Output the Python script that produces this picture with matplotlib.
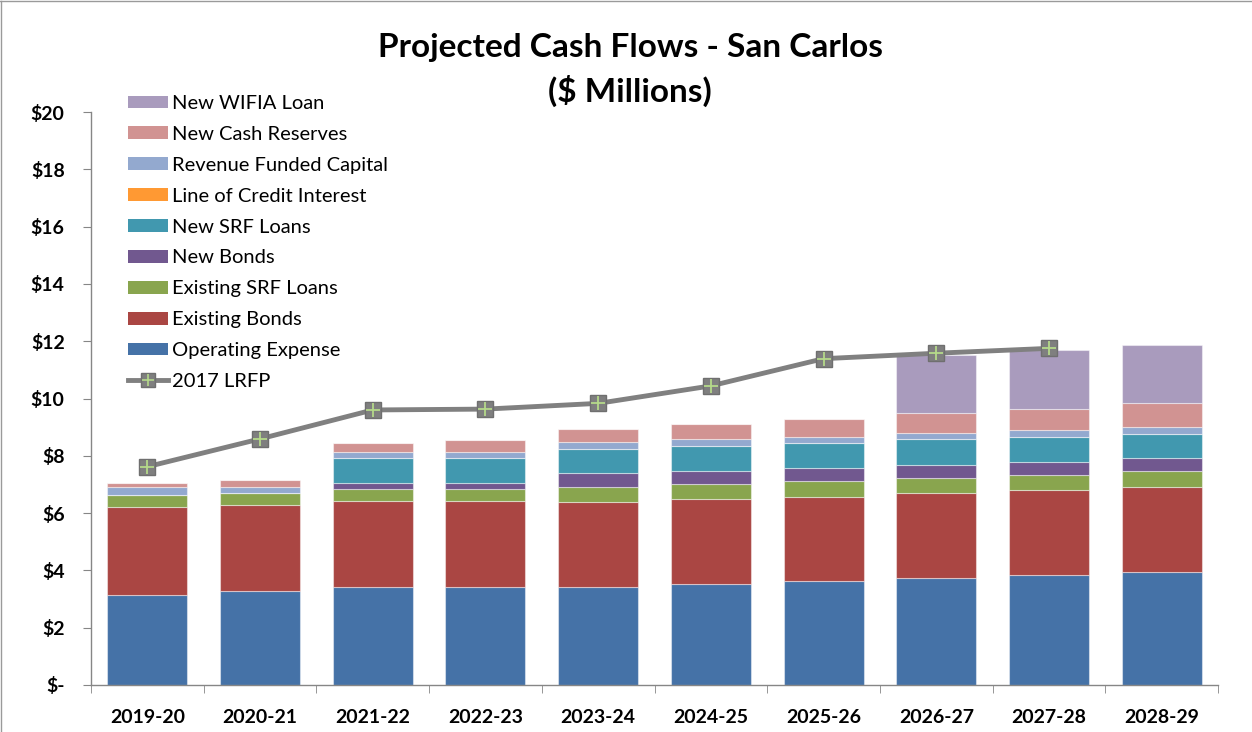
import matplotlib as mlt
mlt.use('Agg')
import matplotlib.pyplot as plt
import numpy as np
from matplotlib.lines import Line2D
from matplotlib.patches import Patch

plt.rcParams['font.family'] = ['Lato', 'DejaVu Sans']

years = ['2019-20', '2020-21', '2021-22', '2022-23', '2023-24',
         '2024-25', '2025-26', '2026-27', '2027-28', '2028-29']

# stacked components, $ millions
operating_expense = [3.14, 3.28, 3.42, 3.42, 3.42, 3.53, 3.63, 3.73, 3.84, 3.94]
existing_bonds    = [3.07, 3.01, 2.99, 2.99, 2.98, 2.97, 2.94, 2.98, 2.98, 2.98]
existing_srf      = [0.43, 0.42, 0.43, 0.43, 0.52, 0.52, 0.54, 0.50, 0.50, 0.54]
new_bonds         = [0.00, 0.00, 0.22, 0.22, 0.47, 0.46, 0.47, 0.48, 0.47, 0.45]
new_srf           = [0.00, 0.00, 0.87, 0.87, 0.86, 0.87, 0.88, 0.88, 0.88, 0.86]
loc_interest      = [0.00, 0.00, 0.00, 0.00, 0.00, 0.00, 0.00, 0.00, 0.00, 0.00]
revenue_capital   = [0.26, 0.21, 0.21, 0.21, 0.23, 0.24, 0.21, 0.21, 0.24, 0.25]
cash_reserves     = [0.14, 0.24, 0.32, 0.41, 0.46, 0.52, 0.61, 0.70, 0.74, 0.81]
wifia_loan        = [0.00, 0.00, 0.00, 0.00, 0.00, 0.00, 0.00, 2.03, 2.04, 2.05]

lrfp = [7.62, 8.59, 9.60, 9.63, 9.83, 10.44, 11.39, 11.58, 11.75, np.nan]

series = [
    ('Operating Expense', operating_expense, '#4572A7'),
    ('Existing Bonds', existing_bonds, '#AA4643'),
    ('Existing SRF Loans', existing_srf, '#89A54E'),
    ('New Bonds', new_bonds, '#71588F'),
    ('New SRF Loans', new_srf, '#4198AF'),
    ('Line of Credit Interest', loc_interest, '#FF9933'),
    ('Revenue Funded Capital', revenue_capital, '#93A9CF'),
    ('New Cash Reserves', cash_reserves, '#D19392'),
    ('New WIFIA Loan', wifia_loan, '#A99BBD'),
]

fig = plt.figure(figsize=(12.52, 7.32), dpi=100)
ax = fig.add_axes([91/1252, 1-685/732, (1218-91)/1252, (685-112)/732])

x = np.arange(len(years))
bottom = np.zeros(len(years))
for name, vals, col in series:
    vals = np.array(vals)
    ax.bar(x, vals, 0.71, bottom=bottom, color=col, edgecolor=(1, 1, 1, 0.45),
           linewidth=0.8, zorder=2)
    bottom += vals

ax.plot(x, lrfp, color='#808080', lw=3.5, zorder=3)
ax.plot(x, lrfp, ls='none', marker='s', ms=11, mfc='#7f7f7f', mec='#6f6f6f', zorder=4)
ax.plot(x, lrfp, ls='none', marker='+', ms=10, mew=1.3, color='#b5d98a', zorder=5)

ax.set_xlim(-0.5, len(years)-0.5)
ax.set_ylim(0, 20)
ax.set_yticks(np.arange(0, 21, 2))
ax.set_yticklabels(['$-'] + ['$%d' % v for v in range(2, 21, 2)],
                   fontsize=14, fontweight='bold')
ax.set_xticks(x)
ax.set_xticklabels(years, fontsize=14, fontweight='bold')
ax.set_xticks(np.arange(-0.5, len(years), 1), minor=True)
ax.tick_params(axis='x', which='major', length=0, pad=17)
ax.tick_params(axis='x', which='minor', length=6, color='#868686')
ax.tick_params(axis='y', length=6, color='#868686', pad=13)
for s in ['top', 'right']:
    ax.spines[s].set_visible(False)
for s in ['left', 'bottom']:
    ax.spines[s].set_color('#868686')
    ax.spines[s].set_linewidth(1)

fig.text(630/1252, 1-47/732, 'Projected Cash Flows - San Carlos', ha='center', va='center',
         fontsize=24, fontweight='bold')
fig.text(630/1252, 1-91/732, '($ Millions)', ha='center', va='center',
         fontsize=24, fontweight='bold')

handles = [Patch(facecolor=c, edgecolor='none') for _, _, c in series[::-1]]
labels = [n for n, _, _ in series[::-1]]
line_h = (Line2D([], [], color='#808080', lw=3.5),
          Line2D([], [], ls='none', marker='s', ms=10, mfc='#7f7f7f', mec='#6f6f6f'),
          Line2D([], [], ls='none', marker='+', ms=9, mew=1.2, color='#b5d98a'))
handles.append(line_h)
labels.append('2017 LRFP')
fig.legend(handles, labels, loc='upper left', bbox_to_anchor=(128/1252, 1-95/732),
           frameon=False, fontsize=14.5, handlelength=2.0, handleheight=0.6,
           labelspacing=0.69, handletextpad=0.2, borderaxespad=0, borderpad=0)

# chart border
fig.add_artist(Line2D([0.5/1252, 0.5/1252], [0, 1-1/732], color='#9a9a9a', lw=1))
fig.add_artist(Line2D([0, 1], [1-1/732, 1-1/732], color='#9a9a9a', lw=1))

fig.savefig('out.png', dpi=100)
